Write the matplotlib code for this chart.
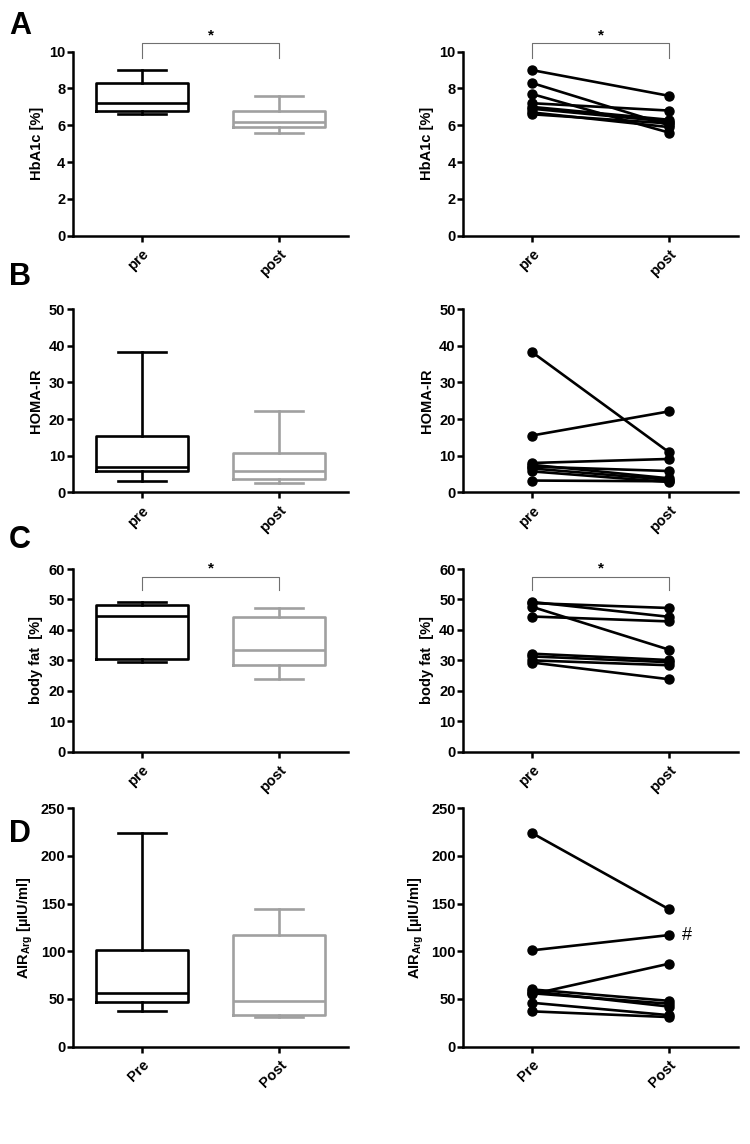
import matplotlib
matplotlib.use("Agg")
import matplotlib.pyplot as plt

plt.rcParams['font.family'] = ['Liberation Sans', 'DejaVu Sans']
plt.rcParams['font.weight'] = 'bold'
plt.rcParams['axes.labelweight'] = 'bold'
plt.rcParams['mathtext.fontset'] = 'custom'
plt.rcParams['mathtext.rm'] = 'Liberation Sans:bold'
plt.rcParams['mathtext.bf'] = 'Liberation Sans:bold'

# paired values (one entry per subject)
hba1c_pre = [9.0, 8.3, 7.7, 7.2, 7.0, 6.9, 6.7, 6.6]
hba1c_post = [7.6, 6.0, 5.6, 6.8, 6.3, 6.2, 5.9, 6.1]
homa_pre = [38.3, 15.5, 8.0, 7.5, 7.0, 6.5, 5.7, 3.2]
homa_post = [10.9, 22.1, 9.1, 3.8, 5.8, 3.4, 2.8, 3.0]
fat_pre = [49.2, 48.8, 47.6, 44.4, 32.2, 31.3, 30.0, 29.3]
fat_post = [44.3, 47.2, 33.5, 42.8, 30.1, 29.4, 28.4, 23.8]
air_pre = [224, 101, 60, 58, 56, 55, 46, 37]
air_post = [144, 117, 48, 42, 45, 87, 33, 31]

# box summaries: min, q1, median, q3, max
hba1c_box = [[6.6, 6.8, 7.2, 8.3, 9.0], [5.6, 5.9, 6.2, 6.8, 7.6]]
homa_box = [[3.2, 5.8, 7.0, 15.5, 38.3], [2.6, 3.5, 5.8, 10.8, 22.1]]
fat_box = [[29.4, 30.3, 44.5, 48.1, 49.1], [23.8, 28.5, 33.4, 44.1, 47.2]]
air_box = [[37.8, 46.5, 56.6, 101, 224.5], [30.8, 33.2, 47.9, 117, 144.4]]

labels_lower = ['pre', 'post']
labels_upper = ['Pre', 'Post']

fig = plt.figure(figsize=(7.5, 11.44), dpi=100)

rows = [
    # letter, bottom, height, ymax, step, ylabel, box, pre, post, labels, bracket
    ('A', 0.794, 0.1608, 10, 2, 'HbA1c [%]', hba1c_box, hba1c_pre, hba1c_post, labels_lower, (10.47, 9.66, 10.9)),
    ('B', 0.5697, 0.160, 50, 10, 'HOMA-IR', homa_box, homa_pre, homa_post, labels_lower, None),
    ('C', 0.3429, 0.1597, 60, 10, 'body fat  [%]', fat_box, fat_pre, fat_post, labels_lower, (57.3, 53.0, 60.3)),
    ('D', 0.0851, 0.2084, 250, 50, r'AIR$_{\mathregular{Arg}}$ [µIU/ml]', air_box, air_pre, air_post, labels_upper, None),
]
letter_y = [0.9777, 0.7583, 0.528, 0.2714]

box_colors = ['black', '#a0a0a0']


def style_axis(ax, ymax, step, ylabel, labels):
    ax.set_xlim(-0.5, 1.5)
    ax.set_ylim(0, ymax)
    ax.set_yticks(range(0, ymax + 1, step))
    ax.set_xticks([0, 1])
    ax.set_xticklabels(labels, rotation=45, ha='right', rotation_mode='anchor', fontsize=10.5)
    ax.tick_params(axis='both', width=1.8, length=4.5, labelsize=10.5)
    ax.tick_params(axis='y', pad=1)
    ax.spines['top'].set_visible(False)
    ax.spines['right'].set_visible(False)
    ax.spines['left'].set_linewidth(1.8)
    ax.spines['bottom'].set_linewidth(1.8)
    ax.set_ylabel(ylabel, fontsize=10.5, labelpad=4)


def bracket(ax, top, leg, star_y):
    ax.plot([0, 0, 1, 1], [leg, top, top, leg], color='#707070', lw=0.8, clip_on=False)
    ax.text(0.5, star_y, '*', ha='center', va='center', fontsize=11, clip_on=False)


for i, (letter, bottom, height, ymax, step, ylabel, box, pre, post, labels, br) in enumerate(rows):
    ax1 = fig.add_axes([0.0973, bottom, 0.3667, height])
    ax2 = fig.add_axes([0.6178, bottom, 0.3659, height])

    for j, st in enumerate(box):
        stats = [dict(whislo=st[0], q1=st[1], med=st[2], q3=st[3], whishi=st[4], fliers=[])]
        c = box_colors[j]
        ax1.bxp(stats, positions=[j], widths=0.67, capwidths=0.35, showfliers=False,
                boxprops=dict(color=c, lw=1.9), medianprops=dict(color=c, lw=1.9),
                whiskerprops=dict(color=c, lw=1.9), capprops=dict(color=c, lw=1.9))

    for a, b in zip(pre, post):
        ax2.plot([0, 1], [a, b], color='black', lw=1.9, marker='o', markersize=6.5, clip_on=False)

    style_axis(ax1, ymax, step, ylabel, labels)
    style_axis(ax2, ymax, step, ylabel, labels)

    if br is not None:
        bracket(ax1, *br)
        bracket(ax2, *br)

    if letter == 'D':
        ax2.text(1.13, 117, '#', ha='center', va='center', fontsize=13, fontweight='normal')

    fig.text(0.012, letter_y[i], letter, fontsize=22, fontweight='bold', va='center')

fig.savefig('out.png', dpi=100)
